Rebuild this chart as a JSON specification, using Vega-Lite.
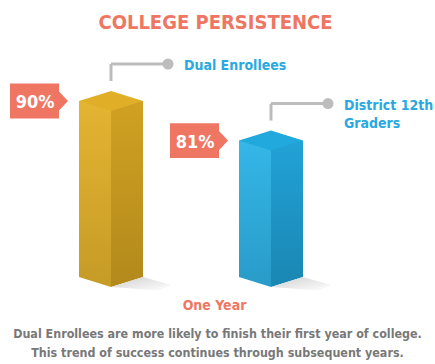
{
  "$schema": "https://vega.github.io/schema/vega-lite/v6.json",
  "width": 435,
  "height": 364,
  "autosize": {"type": "none"},
  "padding": 0,
  "background": "#ffffff",
  "config": {"view": {"stroke": null}},
  "title": {
    "text": ["Dual Enrollees are more likely to finish their first year of college.", "This trend of success continues through subsequent years."],
    "orient": "bottom",
    "anchor": "middle",
    "frame": "group",
    "baseline": "alphabetic",
    "offset": 0,
    "dy": -26,
    "font": "DejaVu Sans Condensed",
    "fontWeight": "bold",
    "fontSize": 12.4,
    "lineHeight": 19,
    "color": "#787878"
  },
  "data": {
    "values": [
      {"group": "Dual Enrollees", "name": ["Dual Enrollees"], "value": 0.9},
      {"group": "District 12th Graders", "name": ["District 12th", "Graders"], "value": 0.81}
    ]
  },
  "encoding": {
    "x": {
      "field": "group",
      "type": "nominal",
      "sort": null,
      "scale": {"range": [31, 351], "paddingInner": 0, "paddingOuter": 0},
      "axis": {
        "title": "One Year",
        "labels": false,
        "ticks": false,
        "domain": false,
        "grid": false,
        "titleFont": "DejaVu Sans Condensed",
        "titleFontWeight": "bold",
        "titleFontSize": 14,
        "titleColor": "#EE7663",
        "titleBaseline": "alphabetic",
        "titleY": -55,
        "titleX": 214,
        "titleAlign": "center"
      }
    },
    "y": {
      "field": "value",
      "type": "quantitative",
      "scale": {"domain": [0.5, 0.9], "range": [277, 101], "zero": false, "nice": false},
      "axis": {
        "title": "COLLEGE PERSISTENCE",
        "labels": false,
        "ticks": false,
        "domain": false,
        "grid": false,
        "titleAngle": 0,
        "titleAlign": "center",
        "titleBaseline": "alphabetic",
        "titleX": 215,
        "titleY": 28,
        "titleFont": "DejaVu Sans Condensed",
        "titleFontWeight": "bold",
        "titleFontSize": 20,
        "titleColor": "#EE7663"
      }
    }
  },
  "layer": [
    {
      "mark": {"type": "bar", "width": 32, "xOffset": -16, "y2Offset": 10},
      "encoding": {
        "y2": {"datum": 0.5},
        "color": {
          "condition": {"test": "datum.group === 'Dual Enrollees'", "value": {"gradient": "linear", "x1": 0, "y1": 0, "x2": 0, "y2": 1, "stops": [{"offset": 0, "color": "#E4B432"}, {"offset": 1, "color": "#C69B26"}]}},
          "value": {"gradient": "linear", "x1": 0, "y1": 0, "x2": 0, "y2": 1, "stops": [{"offset": 0, "color": "#34B7E7"}, {"offset": 1, "color": "#299BC8"}]}
        }
      }
    },
    {
      "mark": {"type": "bar", "width": 32, "xOffset": 16, "y2Offset": 10},
      "encoding": {
        "y2": {"datum": 0.5},
        "color": {
          "condition": {"test": "datum.group === 'Dual Enrollees'", "value": {"gradient": "linear", "x1": 0, "y1": 0, "x2": 0, "y2": 1, "stops": [{"offset": 0, "color": "#D0A122"}, {"offset": 1, "color": "#B2891B"}]}},
          "value": {"gradient": "linear", "x1": 0, "y1": 0, "x2": 0, "y2": 1, "stops": [{"offset": 0, "color": "#22A2D7"}, {"offset": 1, "color": "#1A86B2"}]}
        }
      }
    },
    {
      "mark": {"type": "point", "filled": true, "opacity": 1, "strokeWidth": 0, "size": 4096, "color": "#ffffff",
        "shape": "M-1,0L0,0.3125L0,0.45L-1.1,0.45L-1.1,0Z M1,0L0,0.3125L0,0.45L1.1,0.45L1.1,0Z"},
      "encoding": {"y": {"datum": 0.5}}
    },
    {
      "mark": {"type": "point", "filled": true, "opacity": 1, "strokeWidth": 0, "size": 4096,
        "shape": "M1,0L1.875,0.25L1.5,0.42L0,0.3125Z",
        "color": {"gradient": "linear", "x1": 0, "y1": 0, "x2": 1, "y2": 1, "stops": [{"offset": 0, "color": "#CFCFCF"}, {"offset": 1, "color": "#FFFFFF"}]}},
      "encoding": {"y": {"datum": 0.5}}
    },
    {
      "mark": {"type": "point", "filled": true, "opacity": 1, "strokeWidth": 0, "size": 4096,
        "shape": "M-1,0L0,-0.3125L1,0L0,0.3125Z"},
      "encoding": {
        "color": {"condition": {"test": "datum.group === 'Dual Enrollees'", "value": "#E0AE27"}, "value": "#21A8DD"}
      }
    },
    {
      "mark": {"type": "rule", "color": "#BDBDBD", "strokeWidth": 3, "yOffset": -20, "y2Offset": -37},
      "encoding": {"y2": {"field": "value"}}
    },
    {
      "mark": {"type": "rule", "color": "#BDBDBD", "strokeWidth": 3, "yOffset": -37, "x2Offset": 57},
      "encoding": {"x2": {"field": "group"}}
    },
    {
      "mark": {"type": "point", "filled": true, "opacity": 1, "strokeWidth": 0, "size": 121, "shape": "circle", "color": "#BDBDBD", "xOffset": 57, "yOffset": -37},
      "encoding": {}
    },
    {
      "mark": {"type": "text", "align": "left", "baseline": "alphabetic", "xOffset": 73, "yOffset": -31, "font": "DejaVu Sans Condensed", "fontWeight": "bold", "fontSize": 14, "lineHeight": 18, "color": "#29A9E0"},
      "encoding": {"text": {"field": "name"}}
    },
    {
      "mark": {"type": "point", "filled": true, "opacity": 1, "strokeWidth": 0, "size": 3364, "color": "#EE7663", "xOffset": -72,
        "shape": "M-1,-0.6L0.69,-0.6L0.69,-0.33L1,0L0.69,0.33L0.69,0.6L-1,0.6Z"},
      "encoding": {}
    },
    {
      "mark": {"type": "text", "align": "center", "baseline": "alphabetic", "xOffset": -76, "yOffset": 7, "font": "DejaVu Sans Condensed", "fontWeight": "bold", "fontSize": 18, "color": "#ffffff"},
      "encoding": {"text": {"field": "value", "type": "quantitative", "format": ".0%"}}
    }
  ]
}
